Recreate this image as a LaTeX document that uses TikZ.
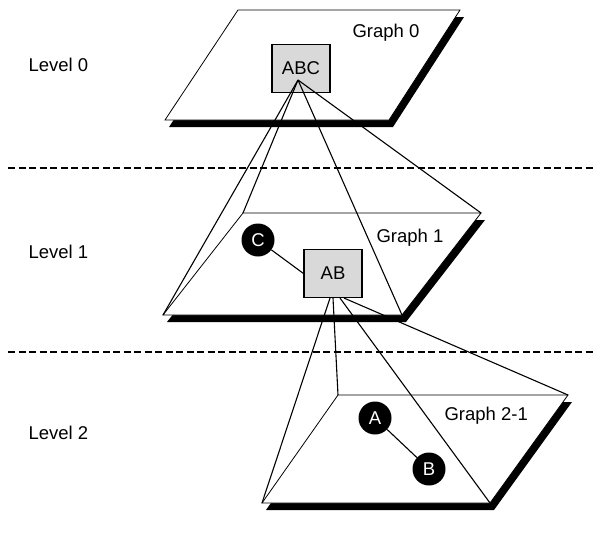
\documentclass[tikz,border=0pt]{standalone}
\usepackage{fontspec}
\setmainfont{Liberation Sans}

\begin{document}
\begin{tikzpicture}[
  x=1pt, y=-1pt,
  font=\fontsize{18.5}{22}\selectfont,
  plane/.style={draw=black, line width=0.8pt, fill=white},
  planeshade/.style={fill=black},
  groupbox/.style={rectangle, draw=black, line width=1.1pt, fill=gray!30,
                   minimum width=58pt, minimum height=48pt, inner sep=0pt},
  vertex/.style={circle, fill=black, text=white, minimum size=33pt, inner sep=0pt},
  link/.style={line width=1.1pt},
  proj/.style={line width=1.1pt},
  sep/.style={line width=2.5pt, dash pattern=on 7pt off 3.5pt}
]
\useasboundingbox (0,0) rectangle (594,538);

% --- Plane corners ---
\coordinate (g0tl) at (238,10);  \coordinate (g0tr) at (460,10);
\coordinate (g0br) at (389,120); \coordinate (g0bl) at (165,120);
\coordinate (g1tl) at (243,213); \coordinate (g1tr) at (481,213);
\coordinate (g1br) at (402,315); \coordinate (g1bl) at (163,315);
\coordinate (g2tl) at (338,395); \coordinate (g2tr) at (568,395);
\coordinate (g2br) at (490,503); \coordinate (g2bl) at (262,503);

% --- Level separators ---
\coordinate (sepa) at (8,168);  \coordinate (sepb) at (594,168);
\coordinate (sepc) at (8,352);  \coordinate (sepd) at (594,352);
\draw[sep] (sepa) -- (sepb);
\draw[sep] (sepc) -- (sepd);

\node[anchor=west] (lev0) at (25,65)  {Level 0};
\node[anchor=west] (lev1) at (25,252) {Level 1};
\node[anchor=west] (lev2) at (25,433) {Level 2};

% --- Planes (shadow first) ---
\fill[planeshade] ([shift={(4,7)}]g0tl) -- ([shift={(4,7)}]g0tr)
  -- ([shift={(4,7)}]g0br) -- ([shift={(4,7)}]g0bl) -- cycle;
\draw[plane] (g0tl) -- (g0tr) -- (g0br) -- (g0bl) -- cycle;
\fill[planeshade] ([shift={(4,7)}]g1tl) -- ([shift={(4,7)}]g1tr)
  -- ([shift={(4,7)}]g1br) -- ([shift={(4,7)}]g1bl) -- cycle;
\draw[plane] (g1tl) -- (g1tr) -- (g1br) -- (g1bl) -- cycle;
\fill[planeshade] ([shift={(4,7)}]g2tl) -- ([shift={(4,7)}]g2tr)
  -- ([shift={(4,7)}]g2br) -- ([shift={(4,7)}]g2bl) -- cycle;
\draw[plane] (g2tl) -- (g2tr) -- (g2br) -- (g2bl) -- cycle;

\node[anchor=west] (lbl0) at (349,33)  {Graph 0};
\node[anchor=west] (lbl1) at (373,238) {Graph 1};
\node[anchor=west] (lbl2) at (441,416) {Graph 2-1};

% --- Group nodes ---
\node[groupbox] (abc) at (301,68.5) {ABC};
\node[groupbox] (ab)  at (333,273.5) {AB};
\coordinate (abcapex) at (298,80);

% --- Projections to the level below ---
\draw[proj] (abcapex) -- (g1bl);
\draw[proj] (abcapex) -- (g1tl);
\draw[proj] (abcapex) -- (g1br);
\draw[proj] (abcapex) -- (g1tr);
\draw[proj] ([xshift=-3pt]ab.south) -- (g2bl);
\draw[proj] (ab.south) -- (g2tl);
\draw[proj] ([xshift=7pt]ab.south) -- (g2br);
\draw[proj] ([xshift=11pt]ab.south) -- (g2tr);

% --- Vertices ---
\node[vertex] (c) at (258,240) {C};
\node[vertex] (a) at (375,418) {A};
\node[vertex] (b) at (429,469) {B};

\draw[link] (c) -- (ab.west);
\draw[link] (a) -- (b);

\end{tikzpicture}
\end{document}
